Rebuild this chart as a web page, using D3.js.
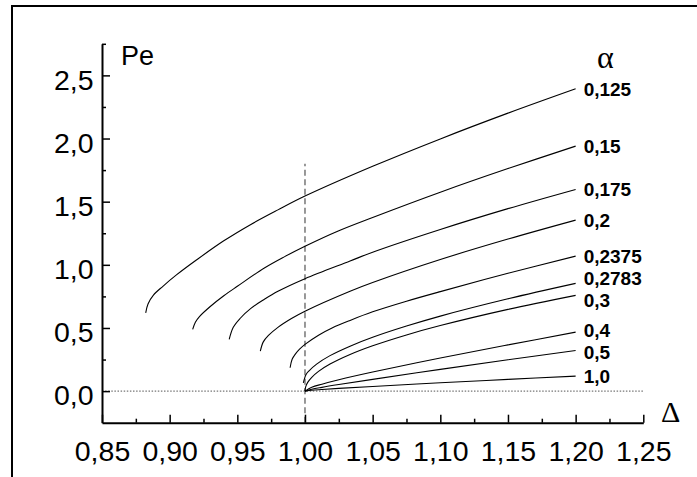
<!DOCTYPE html>
<html>
<head>
<meta charset="utf-8">
<script src="https://cdn.jsdelivr.net/npm/d3@7"></script>
<style>
  html, body { margin: 0; padding: 0; background: #fff; }
  svg { display: block; }
  text { font-family: "Liberation Sans", Arial, sans-serif; fill: #000; }
</style>
</head>
<body>
<svg id="chart" width="697" height="477"></svg>
<script>
// Pe(Δ) curves for several values of α
const alphaLabels = ["0,125", "0,15", "0,175", "0,2", "0,2375", "0,2783", "0,3", "0,4", "0,5", "1,0"];

const curve0125 = [[0.8823,0.62],[0.884,0.69],[0.888,0.76],[0.895,0.83],[0.905,0.92],[0.92,1.04],[0.94,1.19],[0.96,1.32],[0.98,1.435],[1.00,1.544],[1.05,1.78],[1.10,1.997],[1.15,2.201],[1.20,2.394]];
const curve015  = [[0.917,0.489],[0.919,0.545],[0.922,0.59],[0.93,0.67],[0.94,0.755],[0.95,0.83],[0.97,0.975],[0.985,1.065],[1.00,1.147],[1.025,1.27],[1.05,1.375],[1.10,1.575],[1.15,1.762],[1.20,1.94]];
const curve0175 = [[0.944,0.409],[0.947,0.505],[0.952,0.575],[0.96,0.655],[0.97,0.727],[0.98,0.79],[1.00,0.89],[1.0333,1.03],[1.05,1.10],[1.10,1.28],[1.15,1.445],[1.20,1.597]];
const curve02   = [[0.967,0.317],[0.9692,0.39],[0.973,0.441],[0.98,0.505],[0.99,0.575],[1.00,0.633],[1.0333,0.791],[1.05,0.86],[1.10,1.042],[1.15,1.204],[1.20,1.354]];
const curve02375 = [[0.989,0.185],[0.9905,0.252],[0.993,0.295],[0.996,0.332],[1.00,0.37],[1.01,0.443],[1.02,0.50],[1.0333,0.56],[1.05,0.628],[1.075,0.712],[1.10,0.788],[1.15,0.933],[1.20,1.069]];
const curve02783 = [[0.9988,0.066],[1.0007,0.13],[1.003,0.161],[1.0086,0.214],[1.0185,0.281],[1.0333,0.356],[1.05,0.426],[1.075,0.515],[1.10,0.594],[1.15,0.731],[1.20,0.853]];
const curve03   = [[1.00,0.0],[1.0005,0.034],[1.002,0.069],[1.005,0.109],[1.01,0.156],[1.0185,0.214],[1.0333,0.29],[1.05,0.359],[1.075,0.445],[1.10,0.519],[1.15,0.647],[1.20,0.758]];
const curve04   = [[1.00,0.0],[1.005,0.030],[1.0125,0.055],[1.025,0.090],[1.05,0.151],[1.10,0.262],[1.15,0.366],[1.20,0.467]];
const curve05   = [[1.00,0.0],[1.005,0.015],[1.0125,0.030],[1.025,0.052],[1.05,0.093],[1.10,0.172],[1.15,0.248],[1.20,0.322]];
const curve10   = [[1.00,0.0],[1.005,0.007],[1.0125,0.013],[1.025,0.022],[1.05,0.037],[1.10,0.066],[1.15,0.093],[1.20,0.119]];

const curves = [curve0125, curve015, curve0175, curve02, curve02375, curve02783, curve03, curve04, curve05, curve10];

const xMajorTicks = [0.85, 0.90, 0.95, 1.00, 1.05, 1.10, 1.15, 1.20, 1.25];
const xMinorTicks = [0.875, 0.925, 0.975, 1.025, 1.075, 1.125, 1.175, 1.225];
const yMajorTicks = [0.0, 0.5, 1.0, 1.5, 2.0, 2.5];
const yMinorTicks = [0.25, 0.75, 1.25, 1.75, 2.25, 2.75];

const xDomain = [0.85, 1.25];
const yDomain = [-0.25, 2.75];
const markerDelta = 1.00;      // vertical reference line at Δ = 1
const markerTop = 1.8;

const svg = d3.select("#chart");

// outer frame
svg.append("rect")
  .attr("x", 12).attr("y", 6)
  .attr("width", 720).attr("height", 500)
  .attr("fill", "none").attr("stroke", "#000").attr("stroke-width", 2);

const x = d3.scaleLinear().domain(xDomain).range([102, 643.3]);
const y = d3.scaleLinear().domain(yDomain).range([422.7, 43.8]);

const locale = d3.formatLocale({decimal: ",", thousands: ".", grouping: [3], currency: ["", ""]});
const fmt2 = locale.format(".2f");
const fmt1 = locale.format(".1f");

// reference lines
svg.append("line")
  .attr("x1", x(xDomain[0])).attr("x2", x(xDomain[1]))
  .attr("y1", y(0)).attr("y2", y(0))
  .attr("stroke", "#777").attr("stroke-width", 1.3)
  .attr("stroke-dasharray", "1.5,1.6");

svg.append("line")
  .attr("x1", x(markerDelta)).attr("x2", x(markerDelta))
  .attr("y1", y(yDomain[0])).attr("y2", y(markerTop))
  .attr("stroke", "#777").attr("stroke-width", 1.5)
  .attr("stroke-dasharray", "6,3.5");

// x axis
const gx = svg.append("g").attr("transform", `translate(0,${y(yDomain[0])})`);
gx.call(d3.axisBottom(x).tickValues(xMajorTicks).tickFormat(fmt2)
  .tickSize(-8).tickSizeOuter(0).tickPadding(18));
gx.append("g").call(d3.axisBottom(x).tickValues(xMinorTicks).tickFormat("")
  .tickSize(-4).tickSizeOuter(0))
  .select(".domain").remove();

// y axis
const gy = svg.append("g").attr("transform", `translate(${x(xDomain[0])},0)`);
gy.call(d3.axisLeft(y).tickValues(yMajorTicks).tickFormat(fmt1)
  .tickSize(-8).tickSizeOuter(0).tickPadding(8.5));
gy.append("g").call(d3.axisLeft(y).tickValues(yMinorTicks).tickFormat("")
  .tickSize(-4).tickSizeOuter(0))
  .select(".domain").remove();

svg.selectAll(".domain").attr("stroke", "#000").attr("stroke-width", 2);
svg.selectAll(".tick line").attr("stroke", "#000").attr("stroke-width", 1.5);
svg.selectAll(".tick text")
  .attr("font-family", "'Liberation Sans', Arial, sans-serif")
  .attr("font-size", 28.5).attr("fill", "#000");
gy.selectAll(".tick text").attr("dy", "0.48em");

// axis titles
svg.append("text").attr("x", 121).attr("y", 65)
  .attr("font-size", 27).text("Pe");
svg.append("text").attr("x", 661).attr("y", 421.5)
  .style("font-family", "'Liberation Serif', 'Times New Roman', serif")
  .attr("font-size", 30).text("Δ");
svg.append("text").attr("x", 597).attr("y", 68)
  .style("font-family", "'Liberation Serif', 'Times New Roman', serif")
  .attr("font-size", 32).text("α");

// curves
const line = d3.line().x(d => x(d[0])).y(d => y(d[1])).curve(d3.curveCatmullRom.alpha(0.5));
svg.append("g").selectAll("path").data(curves).join("path")
  .attr("d", line)
  .attr("fill", "none").attr("stroke", "#000").attr("stroke-width", 1.1);

// curve labels at line ends, nudged apart where they crowd
const labelPos = curves.map(c => y(c[c.length - 1][1]));
const minGap = 22;
for (let it = 0; it < 60; it++) {
  for (let i = 0; i < labelPos.length - 1; i++) {
    const gap = labelPos[i + 1] - labelPos[i];
    if (gap < minGap) {
      const push = (minGap - gap) / 2;
      labelPos[i] -= push;
      labelPos[i + 1] += push;
    }
  }
}
svg.append("g").selectAll("text").data(alphaLabels).join("text")
  .attr("x", (d, i) => x(curves[i][curves[i].length - 1][0]) + 8)
  .attr("y", (d, i) => labelPos[i])
  .attr("dy", "0.36em")
  .attr("font-size", 19).attr("font-weight", "bold")
  .text(d => d);
</script>
</body>
</html>
